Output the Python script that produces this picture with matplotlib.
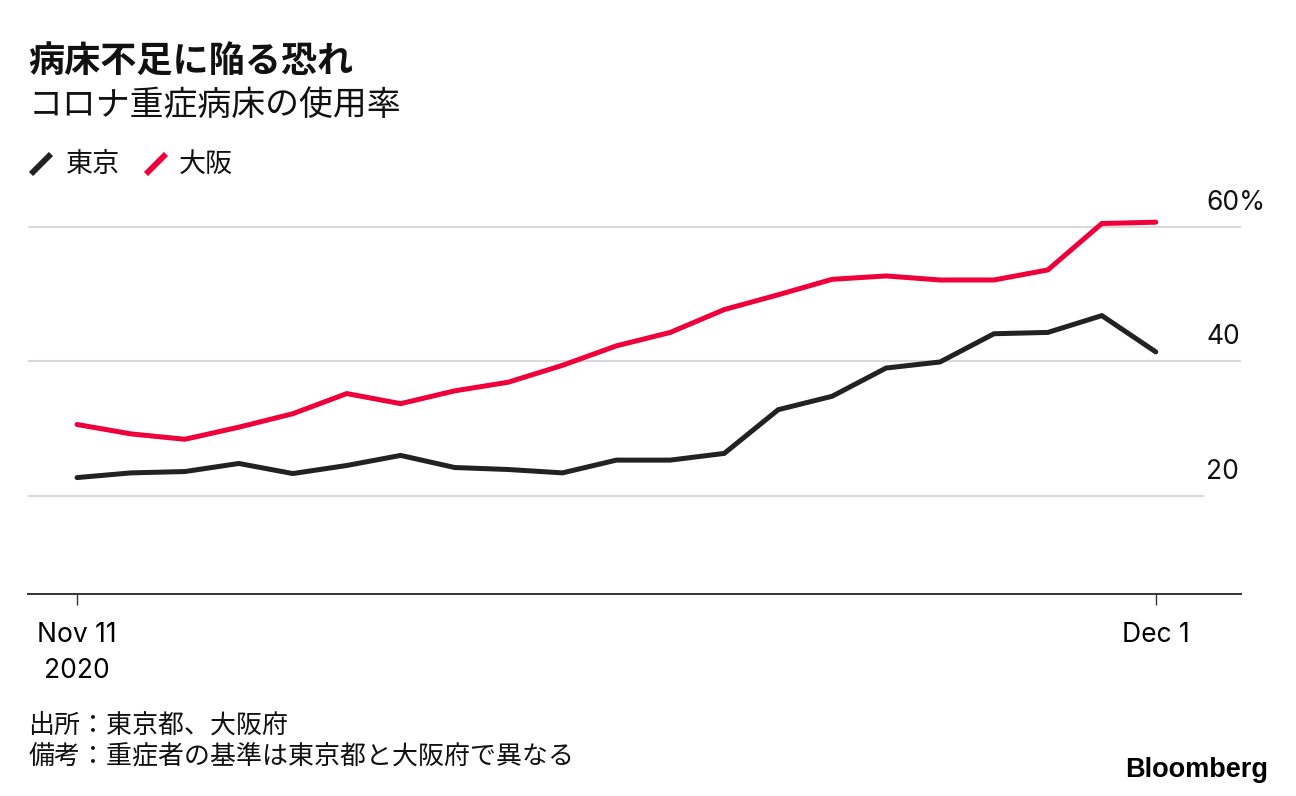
import numpy as np
import pandas as pd
import matplotlib
matplotlib.use('Agg')
import matplotlib.pyplot as plt
import matplotlib.dates as mdates
from matplotlib.lines import Line2D

dates = pd.date_range('2020-11-11', '2020-12-01', freq='D')
tokyo = [22.7, 23.4, 23.6, 24.8, 23.3, 24.5, 26.0, 24.2, 23.9, 23.4, 25.3,
         25.3, 26.3, 32.8, 34.8, 39.0, 39.9, 44.1, 44.3, 46.8, 41.4]
osaka = [30.6, 29.2, 28.4, 30.2, 32.2, 35.2, 33.7, 35.6, 36.9, 39.4, 42.3,
         44.3, 47.7, 49.9, 52.2, 52.7, 52.1, 52.1, 53.6, 60.5, 60.7]
yticks = [20, 40, 60]
ytick_labels = ['20', '40', '60%']

jp = ['Noto Sans CJK JP', 'DejaVu Sans']
latin = ['Inter', 'Liberation Sans', 'DejaVu Sans']
black = '#222222'
red = '#f0003a'

W, H = 1296, 796
fig = plt.figure(figsize=(W / 100, H / 100), dpi=100)

# axes box in pixels: x 28..1241, y 200..594
ax = fig.add_axes([28 / W, (H - 594) / H, (1241 - 28) / W, (594 - 200) / H])

ax.plot(dates, tokyo, color=black, lw=3.6, solid_capstyle='round', solid_joinstyle='miter', zorder=3)
ax.plot(dates, osaka, color=red, lw=3.6, solid_capstyle='round', solid_joinstyle='miter', zorder=3)

ax.set_ylim(5.38, 64)
x0 = mdates.date2num(dates[0])
x1 = mdates.date2num(dates[-1])
ax.set_xlim(x0 - 0.909, x1 + 1.58)

# gridlines, the 20 one is a bit shorter
for v in yticks:
    xmax = 0.9687 if v == 20 else 1.0
    ax.axhline(v, xmin=0, xmax=xmax, color='#d9d9d9', lw=1.5, zorder=1)

for v, lab in zip(yticks, ytick_labels):
    ax.annotate(lab, xy=(1, v), xycoords=('axes fraction', 'data'),
                xytext=(-25, 12.3), textcoords='offset points',
                ha='left', va='baseline', fontsize=19, family=latin, color='#111111')

for s in ['top', 'right', 'left']:
    ax.spines[s].set_visible(False)
ax.spines['bottom'].set_color('#333333')
ax.spines['bottom'].set_linewidth(1.4)
ax.set_yticks([])

ax.set_xticks([dates[0], dates[-1]])
ax.set_xticklabels(['Nov 11\n2020', 'Dec 1'], fontsize=19, family=latin,
                   linespacing=1.5, va='top')
ax.tick_params(axis='x', length=8, width=1, color='#333333', pad=12)

# header
fig.text(28 / W, 1 - 62 / H, '病床不足に陥る恐れ', fontsize=26, weight='bold',
         family=jp, va='center', ha='left', color='#111111')
fig.text(29 / W, 1 - 105 / H, 'コロナ重症病床の使用率', fontsize=24.4,
         family=jp, va='center', ha='left', color='#111111')

# legend
for (xa, xb), col, name, tx in [((31, 51), black, '東京', 66), ((146, 166), red, '大阪', 179)]:
    fig.add_artist(Line2D([xa / W, xb / W], [1 - 174 / H, 1 - 154 / H],
                          transform=fig.transFigure, color=col, lw=4.2,
                          solid_capstyle='butt'))
    fig.text(tx / W, 1 - 164 / H, name, fontsize=19.5, family=jp,
             va='center', ha='left', color='#111111')

# footer
fig.text(28 / W, 1 - 725 / H, '出所：東京都、大阪府', fontsize=18.7, family=jp,
         va='center', ha='left', color='#111111')
fig.text(28 / W, 1 - 756 / H, '備考：重症者の基準は東京都と大阪府で異なる', fontsize=18.7,
         family=jp, va='center', ha='left', color='#111111')
fig.text(1268 / W, 1 - 770 / H, 'Bloomberg', fontsize=19.5, weight='bold',
         family=['Liberation Sans', 'DejaVu Sans'], va='center', ha='right', color='#000000')

fig.savefig('out.png', dpi=100, facecolor='white')
